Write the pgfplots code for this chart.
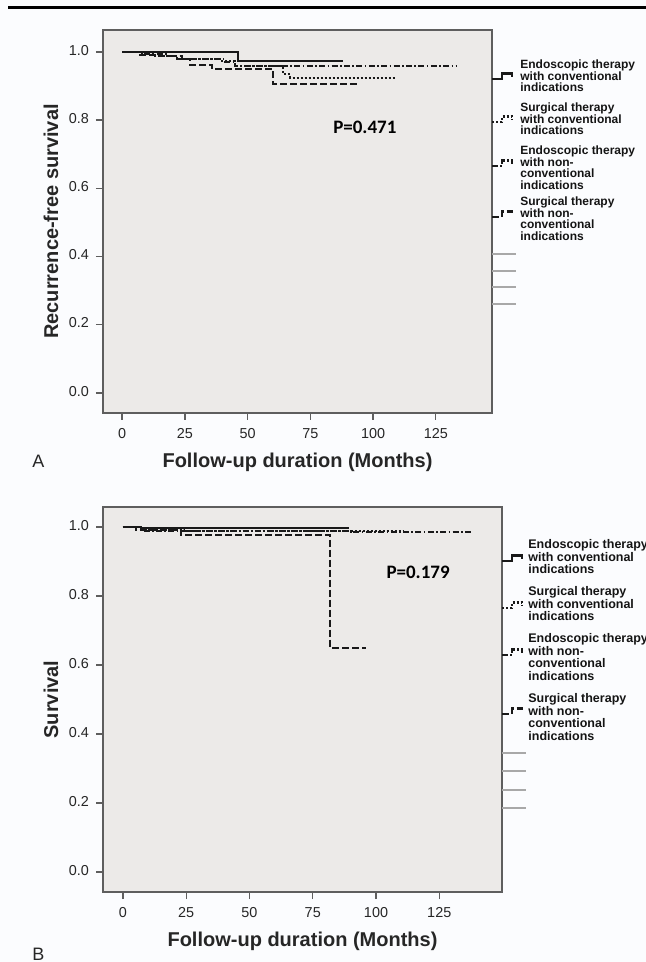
\documentclass[border=0pt]{standalone}
\usepackage{fontspec}
\setmainfont{Liberation Sans}
\newfontfamily\pfont{Carlito}
\usepackage{pgfplots}
\pgfplotsset{compat=1.18}
\definecolor{plotbg}{HTML}{ECEAE8}
\definecolor{pagebg}{HTML}{FBFCFE}
\definecolor{framec}{HTML}{5E5E5E}
\definecolor{censor}{HTML}{A8A8A8}

\tikzset{
  ec/.style={solid},
  sc/.style={dash pattern=on 1pt off 1pt},
  en/.style={dash pattern=on 3pt off 1.2pt on 0.8pt off 1.2pt},
  sn/.style={dash pattern=on 3.5pt off 1.5pt},
  legtxt/.style={inner sep=0pt, anchor=base west, text=black!92},
}
\pgfplotsset{
  km/.style={
    scale only axis,
    axis background/.style={fill=plotbg},
    axis line style={framec, line width=0.9pt},
    tick align=outside, xtick pos=lower, ytick pos=left,
    tick style={framec, line width=0.7pt}, major tick length=3.5pt,
    xtick={0,25,50,75,100,125}, ytick={0,0.2,0.4,0.6,0.8,1},
    typeset ticklabels with strut,
    yticklabel style={/pgf/number format/.cd, fixed, fixed zerofill, precision=1},
    ticklabel style={font=\fontsize{7.2}{8}\selectfont, text=black!85},
    /pgf/number format/assume math mode=true,
    xlabel style={font=\bfseries\fontsize{10}{11}\selectfont, at={(axis description cs:0.5,0)}, anchor=center, yshift=-24.5pt, text=black!85},
    ylabel style={font=\bfseries\fontsize{10}{11}\selectfont, at={(axis description cs:0,0.5)}, anchor=center, yshift=26pt, text=black!85},
    xlabel={Follow-up duration (Months)},
    every axis plot/.append style={line width=1pt, black!90, const plot},
  },
}

% legend symbol: x0, y (image px, from top), style
\newcommand{\legsym}[3]{\draw[#3, line width=1.1pt, black!90] (#1,{962-#2-3}) -- ++(10,0) -- ++(0,5.5) -- ++(10,0) -- ++(0,-3.5);}
% legend text: x, first baseline (image px), spacing, font size, lines
\newcommand{\legentry}[5]{\foreach \t [count=\i] in {#5} \node[legtxt, font=\bfseries\fontsize{#4}{#4}\selectfont] at (#1,{962-#2-(\i-1)*#3}) {\t};}

\begin{document}
\begin{tikzpicture}
\begin{scope}[x=0.5pt, y=0.5pt]
  \clip (0,0) rectangle (646,962);
  \fill[pagebg] (0,0) rectangle (646,962);
  \draw[line width=1.5pt, black] (8,954) -- (646,954);
\end{scope}

% ---------------- Panel A ----------------
\begin{axis}[km, at={(51.5pt,274.5pt)}, anchor=south west,
  width=194.5pt, height=191.5pt,
  xmin=-7.6, xmax=147.4, ymin=-0.0587, ymax=1.0645,
  ylabel={Recurrence-free survival}]
  % Endoscopic therapy, conventional
  \addplot[ec] coordinates {(0,1) (46,0.974) (88,0.974)};
  % Surgical therapy, conventional
  \addplot[sc] coordinates {(0,1) (8,0.993) (13,0.987) (22,0.98) (39,0.974) (45,0.96) (64,0.935) (67,0.925) (109,0.925)};
  % Endoscopic therapy, non-conventional
  \addplot[en] coordinates {(0,1) (10,0.993) (18,0.987) (24,0.98) (41,0.972) (45,0.96) (133.5,0.96)};
  % Surgical therapy, non-conventional
  \addplot[sn] coordinates {(0,1) (7,0.992) (14,0.987) (22,0.98) (27,0.962) (36,0.95) (60,0.906) (94,0.906)};
  \node[anchor=west, inner sep=0pt, font=\pfont\bfseries\fontsize{9.5}{11}\selectfont] at (axis cs:84,0.78) {P=0.471};
\end{axis}

% ---------------- Panel B ----------------
\begin{axis}[km, at={(51.5pt,35pt)}, anchor=south west,
  width=199.5pt, height=192.5pt,
  xmin=-7.9, xmax=149.8, ymin=-0.058, ymax=1.058,
  ylabel={Survival}]
  \addplot[ec] coordinates {(0,1) (7,0.996) (89.5,0.996)};
  \addplot[sc] coordinates {(0,1) (7,0.99) (24,0.987) (110.5,0.987)};
  \addplot[en] coordinates {(0,1) (8,0.988) (90,0.985) (137.5,0.985)};
  \addplot[sn] coordinates {(0,1) (5,0.99) (23,0.978) (82,0.65) (96,0.65)};
  \node[anchor=west, inner sep=0pt, font=\pfont\bfseries\fontsize{9.5}{11}\selectfont] at (axis cs:104,0.87) {P=0.179};
\end{axis}

\begin{scope}[x=0.5pt, y=0.5pt]
  \clip (0,0) rectangle (646,962);
  % panel letters
  \node[font=\fontsize{9}{10}\selectfont, anchor=base west, inner sep=0pt, text=black!85] at (32,{962-468}) {A};
  \node[font=\fontsize{9}{10}\selectfont, anchor=base west, inner sep=0pt, text=black!85] at (32,{962-960.5}) {B};
  % legend A
  \legsym{492}{76}{ec}
  \legsym{492}{119}{sc}
  \legsym{492}{163}{en}
  \legsym{492}{214}{sn}
  \legentry{520}{69}{11.5}{6}{Endoscopic therapy, with conventional, indications}
  \legentry{520}{112}{11.5}{6}{Surgical therapy, with conventional, indications}
  \legentry{520}{155}{11.5}{6}{Endoscopic therapy, with non-, conventional, indications}
  \legentry{520}{206}{11.5}{6}{Surgical therapy, with non-, conventional, indications}
  \foreach \y in {254,271,287,304} \draw[censor, line width=0.6pt] (492,{962-\y}) -- ++(24,0);
  % legend B
  \legsym{502}{558}{ec}
  \legsym{502}{605}{sc}
  \legsym{502}{652}{en}
  \legsym{502}{711}{sn}
  \legentry{528}{549}{12.5}{6.25}{Endoscopic therapy, with conventional, indications}
  \legentry{528}{596}{12.5}{6.25}{Surgical therapy, with conventional, indications}
  \legentry{528}{643}{12.5}{6.25}{Endoscopic therapy, with non-, conventional, indications}
  \legentry{528}{703}{12.5}{6.25}{Surgical therapy, with non-, conventional, indications}
  \foreach \y in {753,771,790,808} \draw[censor, line width=0.6pt] (502,{962-\y}) -- ++(24,0);
\end{scope}
\end{tikzpicture}
\end{document}
